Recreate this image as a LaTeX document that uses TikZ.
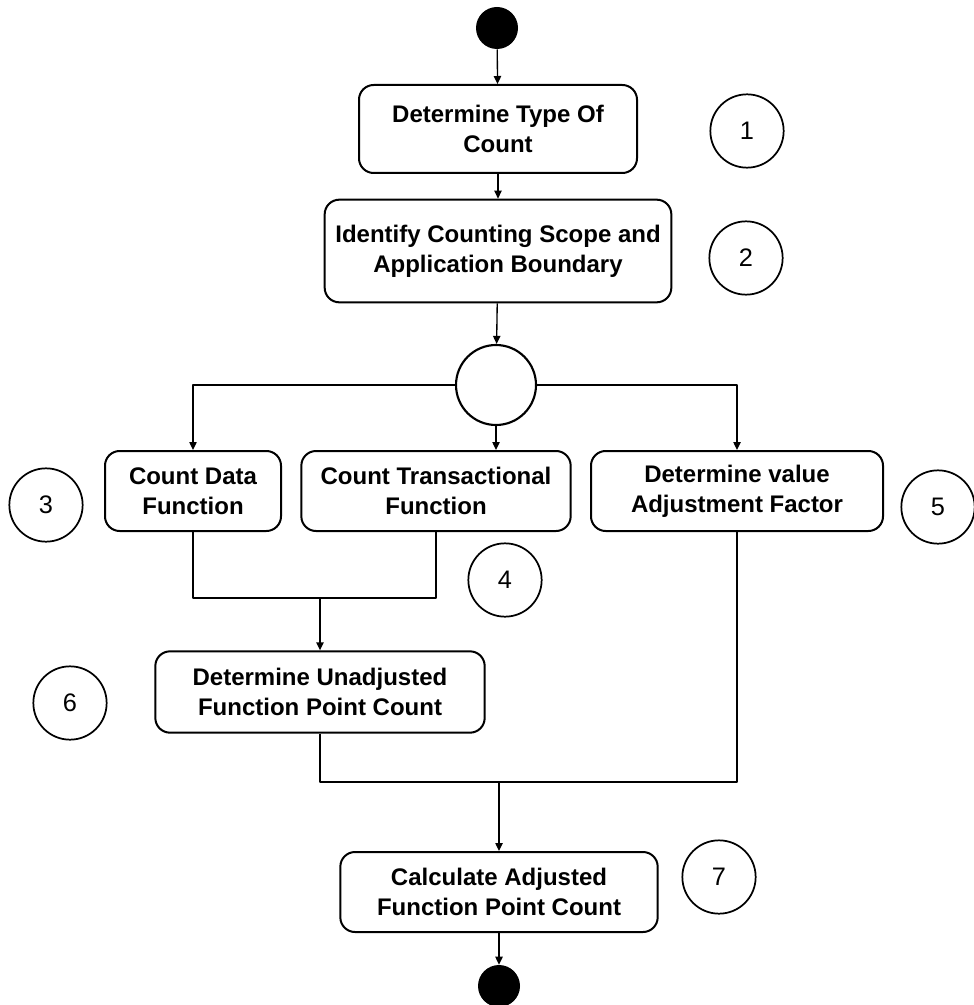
\documentclass[tikz,border=0pt]{standalone}
\usepackage{fontspec}
\setmainfont{Liberation Sans}
\usetikzlibrary{arrows.meta,positioning,calc}

\begin{document}
\begin{tikzpicture}[x=0.75pt, y=-0.75pt, line join=round,
    arr/.style={-{Triangle[length=6pt,width=5.5pt]}, line width=1pt}]
        \tikzstyle{action}=[rectangle, rounded corners=11pt, draw, line width=1.5pt, align=center, inner sep=0pt, font=\bfseries\fontsize{18}{22.5}\selectfont]
        \tikzstyle{numcirc}=[circle, draw, line width=1.3pt, minimum size=55pt, inner sep=0pt, font=\fontsize{19}{22}\selectfont]
        \tikzstyle{dot}=[circle, fill=black, minimum size=31.5pt, inner sep=0pt]
        \tikzstyle{fork}=[circle, draw, line width=1.6pt, minimum size=60pt, inner sep=0pt]
        \useasboundingbox (0,0) rectangle (973,1005);
        % activity nodes
        \node[dot]                  (start)     at (497,28)    {};
        \node[action, minimum width=208.5pt, minimum height=66pt] (typecount) at (498,129) {Determine Type Of\\Count};
        \node[action, minimum width=260pt, minimum height=77pt]   (scope)     at (498,251) {Identify Counting Scope and\\Application Boundary};
        \node[fork]                 (fork)      at (496,385)   {};
        \node[action, minimum width=132pt, minimum height=60pt]   (datafn)    at (193,491) {Count Data\\Function};
        \node[action, minimum width=202pt, minimum height=60pt]   (transfn)   at (436,491) {Count Transactional\\Function};
        \node[action, minimum width=219pt, minimum height=60pt]   (vaf)       at (737,491) {Determine value\\Adjustment Factor};
        \node[action, minimum width=247pt, minimum height=61pt]   (ufp)       at (320,692) {Determine Unadjusted\\Function Point Count};
        \node[action, minimum width=238pt, minimum height=60pt]   (afp)       at (499,892) {Calculate Adjusted\\Function Point Count};
        \node[dot]                  (stop)      at (499,986)   {};
        % step numbers
        \node[numcirc] (n1) at (747,131) {1};
        \node[numcirc] (n2) at (746,258) {2};
        \node[numcirc] (n3) at (46,505)  {3};
        \node[numcirc] (n4) at (505,580) {4};
        \node[numcirc] (n5) at (938,507) {5};
        \node[numcirc] (n6) at (70,703)  {6};
        \node[numcirc] (n7) at (719,877) {7};
        \coordinate (j1) at (320,598);
        \coordinate (j2) at (499,782);
        % flow
        \draw[arr] (start) -- (typecount);
        \draw[arr] (typecount) -- (scope);
        \draw[arr] (scope) -- (fork);
        \draw[arr] (fork.west) -| (datafn.north);
        \draw[arr] (fork.south) -- (fork.south |- transfn.north);
        \draw[arr] (fork.east) -| (vaf.north);
        \draw[line width=1pt] (datafn.south) |- (j1) -| (transfn.south);
        \draw[arr] (j1) -- (ufp);
        \draw[line width=1pt] (ufp.south) |- (j2) -| (vaf.south);
        \draw[arr] (j2) -- (afp);
        \draw[arr] (afp) -- (stop);
      \end{tikzpicture}
\end{document}
